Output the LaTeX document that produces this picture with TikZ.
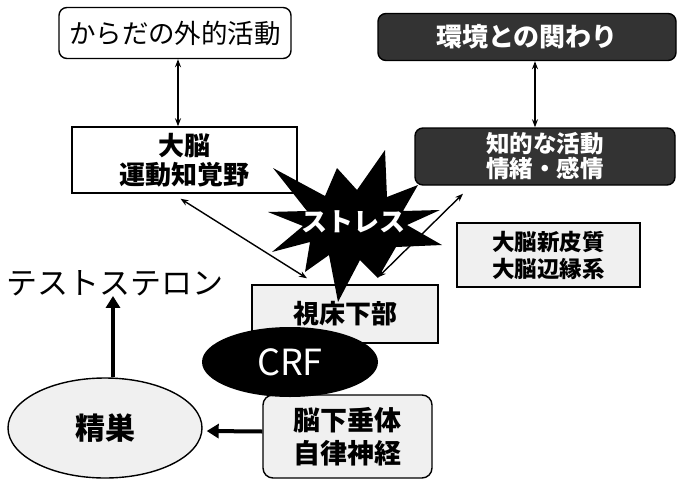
\documentclass[tikz,border=0pt]{standalone}
\usepackage{fontspec}
\setmainfont{Noto Sans CJK JP}
\usetikzlibrary{arrows.meta,shapes.geometric,calc}
\tikzset{
  box/.style={draw, line width=1.4pt, align=center, inner sep=0pt},
  lightbox/.style={box, fill=gray!12},
  darkbox/.style={box, rounded corners=8pt, fill=black!80, text=white},
  dbl/.style={{Stealth[length=8pt,width=6pt]}-{Stealth[length=8pt,width=6pt]}, line width=1.4pt},
  fat/.style={-{Triangle[length=12pt,width=14pt]}, line width=4pt},
}
\begin{document}
\begin{tikzpicture}[x=1pt,y=-1pt]
\useasboundingbox (0,0) rectangle (681,480);
% top boxes
\node[box, rounded corners=8pt, minimum width=232pt, minimum height=51pt,
      font=\fontsize{26.5}{30}\selectfont] (karada) at (175,33) {からだの外的活動};
\node[darkbox, minimum width=298pt, minimum height=47pt,
      font=\fontsize{26}{30}\bfseries] (kankyo) at (527,37) {環境との関わり};
\node[box, minimum width=225pt, minimum height=66pt,
      font=\fontsize{26}{29}\bfseries] (daino) at (184.5,160) {大脳\\運動知覚野};
\node[darkbox, minimum width=260pt, minimum height=57pt,
      font=\fontsize{23.5}{25}\bfseries] (chiteki) at (545,156.5) {知的な活動\\情緒・感情};
\node[lightbox, minimum width=183pt, minimum height=64pt,
      font=\fontsize{22.5}{27}\bfseries] (shinpi) at (548.5,255) {大脳新皮質\\大脳辺縁系};
% hypothalamus
\node[lightbox, minimum width=186pt, minimum height=58pt,
      font=\fontsize{26}{30}\bfseries] (shisho) at (345,314) {視床下部};
% stress star
\fill[black] (273,168) -- (325,196) -- (337,168) -- (357,190) -- (385,150) -- (387,197)
  -- (418,185) -- (403,211) -- (440,210) -- (407,225) -- (442,245) -- (396,247)
  -- (378,278) -- (360,260) -- (338,302) -- (329,255) -- (305,272) -- (310,242)
  -- (272,252) -- (303,226) -- (268,212) -- (307,211) -- cycle;
\node[text=white, font=\fontsize{26}{30}\bfseries] (stress) at (353,222) {ストレス};
% pituitary
\node[lightbox, rounded corners=10pt, minimum width=169pt, minimum height=83pt,
      font=\fontsize{27}{33}\bfseries] (kasuitai) at (347.5,436.5) {脳下垂体\\自律神経};
% CRF
\node[ellipse, fill=black, text=white, minimum width=176pt, minimum height=70pt,
      inner sep=0pt, font=\fontsize{36}{40}\selectfont] (crf) at (290,362) {CRF};
% testes
\node[ellipse, draw, line width=1.4pt, fill=gray!12, minimum width=194pt, minimum height=100pt,
      inner sep=0pt, font=\fontsize{30}{34}\bfseries] (seisou) at (105,428) {精巣};
\node[inner sep=0pt, font=\fontsize{31}{34}\selectfont] (testo) at (115,283) {テストステロン};
% connectors
\draw[dbl] ([xshift=3pt]karada.south) -- ([xshift=3pt]karada.south |- daino.north);
\draw[dbl] ([xshift=8pt]kankyo.south) -- ([xshift=8pt]kankyo.south |- chiteki.north);
\draw[dbl] ($(daino.south)+(-4,5)$) -- ($(shisho.north)+(-38,-6)$);
\draw[dbl] ($(shisho.north)+(33,-7)$) -- ($(chiteki.south)+(-82,8)$);
\draw[fat] ([xshift=8pt]seisou.north) -- ([xshift=8pt]seisou.north |- testo.south);
\draw[fat] ([yshift=5pt]kasuitai.west) -- ($(seisou.east)+(4,3)$);
\end{tikzpicture}
\end{document}
